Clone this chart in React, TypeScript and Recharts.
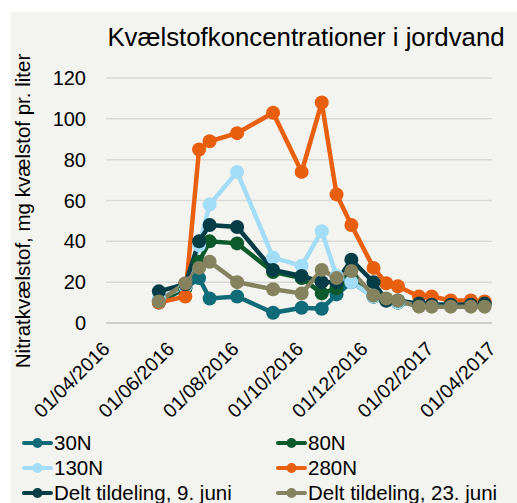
import { LineChart, Line, XAxis, YAxis, CartesianGrid } from 'recharts';

// sampling dates (shared by all series)
const dates = [
  '2016-05-21', '2016-06-15', '2016-06-28', '2016-07-08', '2016-08-03', '2016-09-06',
  '2016-10-03', '2016-10-22', '2016-11-05', '2016-11-19', '2016-12-10', '2016-12-22',
  '2017-01-02', '2017-01-22', '2017-02-03', '2017-02-21', '2017-03-12', '2017-03-25',
];

const n30 = [10, 17, 22, 12, 13, 5, 7.5, 7, 14, 20, 13, 11, 10, 9, 9, 9, 9, 10];
const n80 = [11, 17, 30, 40, 39, 25, 22, 14.5, 17, 22, 13, 11, 10, 9, 9, 9, 9, 9];
const n130 = [12, 18, 38, 58, 74, 32, 28, 45, 23, 20, 13, 11, 10, 9, 9, 9, 9, 9];
const n280 = [10, 13, 85, 89, 93, 103, 74, 108, 63, 48, 27, 19.5, 18, 13, 13, 11, 11, 10.5];
const delt9 = [15.5, 19, 40, 48, 47, 26, 23, 20, 20, 31, 20, 11, 11, 9.5, 9, 9, 9, 9.5];
const delt23 = [10.5, 19.5, 27, 30, 20, 16.5, 14.5, 26, 22, 25.5, 13.5, 12, 11, 8, 8, 8, 8, 8];

const xTickDates = ['2016-04-01', '2016-06-01', '2016-08-01', '2016-10-01', '2016-12-01', '2017-02-01', '2017-04-01'];
const yTicks = [0, 20, 40, 60, 80, 100, 120];

const series = [
  { key: 'n30', name: '30N', color: '#106b78', values: n30 },
  { key: 'n80', name: '80N', color: '#0d5a2c', values: n80 },
  { key: 'n130', name: '130N', color: '#a2dcf7', values: n130 },
  { key: 'n280', name: '280N', color: '#e8600f', values: n280 },
  { key: 'delt9', name: 'Delt tildeling, 9. juni', color: '#053d47', values: delt9 },
  { key: 'delt23', name: 'Delt tildeling, 23. juni', color: '#85835f', values: delt23 },
];

const toTime = (d: string) => {
  const [y, m, dd] = d.split('-').map(Number);
  return Date.UTC(y, m - 1, dd);
};
const pad = (v: number) => String(v).padStart(2, '0');
const fmtDate = (t: number) => {
  const d = new Date(t);
  return `${pad(d.getUTCDate())}/${pad(d.getUTCMonth() + 1)}/${d.getUTCFullYear()}`;
};

const data = dates.map((d, i) => {
  const row: Record<string, number> = { t: toTime(d) };
  series.forEach((s) => {
    row[s.key] = s.values[i];
  });
  return row;
});

const xTicks = xTickDates.map(toTime);
const FONT = '"Liberation Sans", Arial, sans-serif';

const DateTick = ({ x, y, payload }: any) => {
  const ax = x + 5;
  const ay = y + 27;
  return (
    <text x={ax} y={ay} transform={`rotate(-45, ${ax}, ${ay})`} textAnchor="end" fontSize={19.5} fill="#000" fontFamily={FONT}>
      {fmtDate(payload.value)}
    </text>
  );
};

const YLabel = () => (
  <text x={30} y={211} transform="rotate(-90, 30, 211)" textAnchor="middle" fontSize={20.5} fill="#000" fontFamily={FONT}>
    Nitratkvælstof, mg kvælstof pr. liter
  </text>
);

export default function App() {
  return (
    <div style={{ position: 'absolute', left: 0, top: 0, width: 517, height: 503, background: '#fff', overflow: 'hidden', fontFamily: FONT }}>
      <div style={{ position: 'absolute', left: 11, top: 12, right: 0, bottom: 0, background: '#f3f3ef' }} />
      <div style={{ position: 'absolute', left: 0, top: 23, width: 612, textAlign: 'center', fontSize: 25.8, color: '#000', whiteSpace: 'nowrap' }}>
        Kvælstofkoncentrationer i jordvand
      </div>
      <div style={{ position: 'absolute', left: 0, top: 0 }}>
        <LineChart width={517} height={503} data={data} margin={{ top: 78, right: 25, left: 0, bottom: 0 }}>
          <CartesianGrid vertical={false} stroke="#d9d9d5" strokeWidth={1.5} />
          <XAxis
            dataKey="t"
            type="number"
            scale="time"
            domain={[xTicks[0], xTicks[xTicks.length - 1]]}
            ticks={xTicks}
            interval={0}
            height={180}
            tick={<DateTick />}
            tickLine={false}
            tickSize={0}
            tickMargin={0}
            axisLine={{ stroke: '#c9c9c5', strokeWidth: 1.5 }}
          />
          <YAxis
            domain={[0, 120]}
            ticks={yTicks}
            width={106}
            tickLine={false}
            tickSize={0}
            tickMargin={20}
            axisLine={false}
            tick={{ fontSize: 20, fill: '#000', fontFamily: FONT }}
            label={<YLabel />}
          />
          {series.map((s) => (
            <Line
              key={s.key}
              dataKey={s.key}
              name={s.name}
              type="linear"
              stroke={s.color}
              strokeWidth={4.5}
              dot={{ r: 7, fill: s.color, stroke: 'none' }}
              isAnimationActive={false}
            />
          ))}
        </LineChart>
      </div>
      <div
        style={{
          position: 'absolute',
          left: 22,
          top: 430,
          display: 'grid',
          gridTemplateColumns: '254px 240px',
          gridAutoRows: '25px',
          fontSize: 20.5,
          lineHeight: '25px',
          color: '#000',
        }}
      >
        {series.map((s) => (
          <div key={s.key} style={{ display: 'flex', alignItems: 'center', whiteSpace: 'nowrap' }}>
            <svg width={31} height={14} style={{ marginRight: 1 }}>
              <line x1={2} y1={7} x2={29} y2={7} stroke={s.color} strokeWidth={4} strokeLinecap="round" />
              <circle cx={15.5} cy={7} r={5} fill={s.color} />
            </svg>
            <span>{s.name}</span>
          </div>
        ))}
      </div>
    </div>
  );
}
